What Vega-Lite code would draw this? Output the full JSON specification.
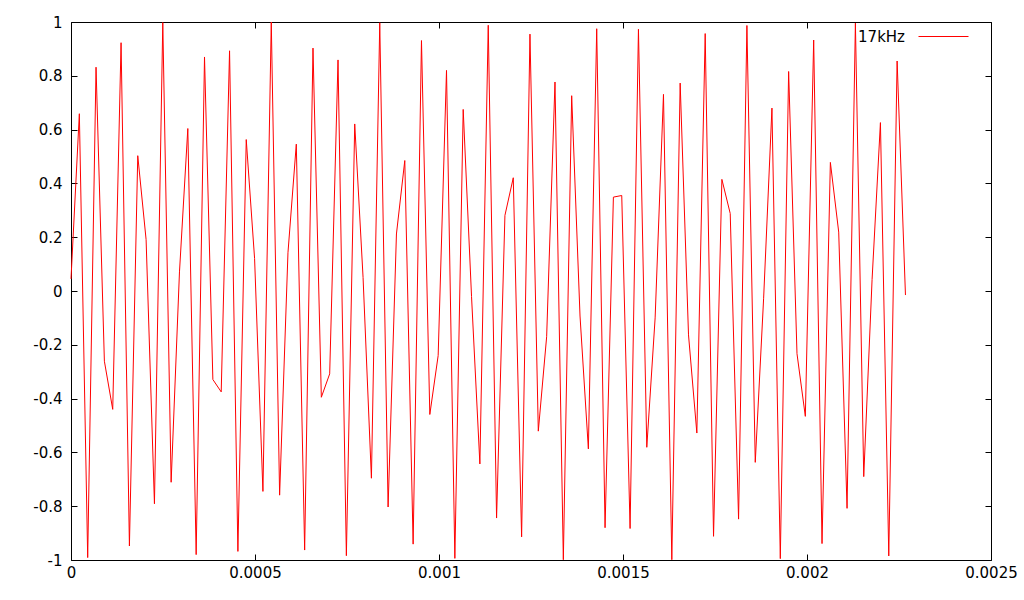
{
  "$schema": "https://vega.github.io/schema/vega-lite/v6.json",
  "width": 920,
  "height": 538,
  "autosize": {"type": "none"},
  "padding": {"left": 71, "top": 22, "right": 33, "bottom": 40},
  "background": "white",
  "config": {"view": {"stroke": "black", "strokeWidth": 1}, "font": "DejaVu Sans"},
  "data": {"values": [
    {"t": 0, "v": 0.045},
    {"t": 0.0000226757, "v": 0.659},
    {"t": 0.0000453515, "v": -0.991},
    {"t": 0.0000680272, "v": 0.832},
    {"t": 0.0000907029, "v": -0.261},
    {"t": 0.000113379, "v": -0.44},
    {"t": 0.000136054, "v": 0.923},
    {"t": 0.00015873, "v": -0.948},
    {"t": 0.000181406, "v": 0.503},
    {"t": 0.000204082, "v": 0.191},
    {"t": 0.000226757, "v": -0.791},
    {"t": 0.000249433, "v": 0.998},
    {"t": 0.000272109, "v": -0.711},
    {"t": 0.000294785, "v": 0.071},
    {"t": 0.00031746, "v": 0.604},
    {"t": 0.000340136, "v": -0.98},
    {"t": 0.000362812, "v": 0.87},
    {"t": 0.000385488, "v": -0.329},
    {"t": 0.000408163, "v": -0.375},
    {"t": 0.000430839, "v": 0.893},
    {"t": 0.000453515, "v": -0.968},
    {"t": 0.00047619, "v": 0.563},
    {"t": 0.000498866, "v": 0.121},
    {"t": 0.000521542, "v": -0.745},
    {"t": 0.000544218, "v": 1.0},
    {"t": 0.000566893, "v": -0.759},
    {"t": 0.000589569, "v": 0.142},
    {"t": 0.000612245, "v": 0.546},
    {"t": 0.000634921, "v": -0.963},
    {"t": 0.000657596, "v": 0.903},
    {"t": 0.000680272, "v": -0.395},
    {"t": 0.000702948, "v": -0.308},
    {"t": 0.000725624, "v": 0.859},
    {"t": 0.000748299, "v": -0.984},
    {"t": 0.000770975, "v": 0.621},
    {"t": 0.000793651, "v": 0.05},
    {"t": 0.000816327, "v": -0.696},
    {"t": 0.000839002, "v": 0.997},
    {"t": 0.000861678, "v": -0.803},
    {"t": 0.000884354, "v": 0.212},
    {"t": 0.000907029, "v": 0.485},
    {"t": 0.000929705, "v": -0.941},
    {"t": 0.000952381, "v": 0.931},
    {"t": 0.000975057, "v": -0.459},
    {"t": 0.000997732, "v": -0.24},
    {"t": 0.00102041, "v": 0.82},
    {"t": 0.00104308, "v": -0.994},
    {"t": 0.00106576, "v": 0.675},
    {"t": 0.00108844, "v": -0.021},
    {"t": 0.00111111, "v": -0.643},
    {"t": 0.00113379, "v": 0.988},
    {"t": 0.00115646, "v": -0.844},
    {"t": 0.00117914, "v": 0.281},
    {"t": 0.00120181, "v": 0.421},
    {"t": 0.00122449, "v": -0.914},
    {"t": 0.00124717, "v": 0.955},
    {"t": 0.00126984, "v": -0.521},
    {"t": 0.00129252, "v": -0.17},
    {"t": 0.00131519, "v": 0.777},
    {"t": 0.00133787, "v": -0.999},
    {"t": 0.00136054, "v": 0.726},
    {"t": 0.00138322, "v": -0.093},
    {"t": 0.0014059, "v": -0.587},
    {"t": 0.00142857, "v": 0.975},
    {"t": 0.00145125, "v": -0.88},
    {"t": 0.00147392, "v": 0.349},
    {"t": 0.0014966, "v": 0.355},
    {"t": 0.00151927, "v": -0.883},
    {"t": 0.00154195, "v": 0.973},
    {"t": 0.00156463, "v": -0.581},
    {"t": 0.0015873, "v": -0.1},
    {"t": 0.00160998, "v": 0.731},
    {"t": 0.00163265, "v": -0.999},
    {"t": 0.00165533, "v": 0.773},
    {"t": 0.001678, "v": -0.163},
    {"t": 0.00170068, "v": -0.528},
    {"t": 0.00172336, "v": 0.957},
    {"t": 0.00174603, "v": -0.912},
    {"t": 0.00176871, "v": 0.415},
    {"t": 0.00179138, "v": 0.288},
    {"t": 0.00181406, "v": -0.848},
    {"t": 0.00183673, "v": 0.987},
    {"t": 0.00185941, "v": -0.637},
    {"t": 0.00188209, "v": -0.029},
    {"t": 0.00190476, "v": 0.68},
    {"t": 0.00192744, "v": -0.995},
    {"t": 0.00195011, "v": 0.816},
    {"t": 0.00197279, "v": -0.233},
    {"t": 0.00199546, "v": -0.466},
    {"t": 0.00201814, "v": 0.933},
    {"t": 0.00204082, "v": -0.939},
    {"t": 0.00206349, "v": 0.478},
    {"t": 0.00208617, "v": 0.219},
    {"t": 0.00210884, "v": -0.808},
    {"t": 0.00213152, "v": 0.996},
    {"t": 0.0021542, "v": -0.69},
    {"t": 0.00217687, "v": 0.043},
    {"t": 0.00219955, "v": 0.626},
    {"t": 0.00222222, "v": -0.985},
    {"t": 0.0022449, "v": 0.855},
    {"t": 0.00226757, "v": -0.015}
  ]},
  "layer": [
    {
      "mark": {"type": "line", "strokeWidth": 1, "interpolate": "linear"},
      "encoding": {
        "x": {
          "field": "t", "type": "quantitative",
          "scale": {"domain": [0, 0.0025], "nice": false, "zero": false},
          "axis": {"orient": "bottom", "values": [0, 0.0005, 0.001, 0.0015, 0.002, 0.0025],
            "labelExpr": "'' + datum.value", "title": null, "grid": false, "domain": false,
            "tickSize": -6, "tickColor": "black", "labelFont": "DejaVu Sans", "labelFontSize": 15,
            "labelColor": "black", "labelPadding": 11, "labelFlush": false, "labelOverlap": false}
        },
        "y": {
          "field": "v", "type": "quantitative",
          "scale": {"domain": [-1, 1], "nice": false, "zero": false},
          "axis": {"orient": "left", "values": [-1, -0.8, -0.6, -0.4, -0.2, 0, 0.2, 0.4, 0.6, 0.8, 1],
            "labelExpr": "'' + datum.value", "title": null, "grid": false, "domain": false,
            "tickSize": -6, "tickColor": "black", "labelFont": "DejaVu Sans", "labelFontSize": 15,
            "labelColor": "black", "labelPadding": 15, "labelFlush": false, "labelOverlap": false}
        },
        "color": {
          "datum": "17kHz", "type": "nominal",
          "scale": {"range": ["#ff0000"]},
          "legend": {"orient": "none", "legendX": 847, "legendY": -11, "title": null,
            "symbolType": "stroke", "symbolSize": 2500, "symbolStrokeWidth": 1,
            "labelFont": "DejaVu Sans", "labelFontSize": 15, "labelColor": "black",
            "labelAlign": "right", "labelOffset": -64, "padding": 0}
        }
      }
    },
    {
      "mark": {"type": "point", "opacity": 0},
      "encoding": {
        "x": {
          "field": "t", "type": "quantitative",
          "scale": {"domain": [0, 0.0025], "nice": false, "zero": false},
          "axis": {"orient": "top", "values": [0, 0.0005, 0.001, 0.0015, 0.002, 0.0025],
            "labels": false, "title": null, "grid": false, "domain": false,
            "tickSize": -6, "tickColor": "black"}
        },
        "y": {
          "field": "v", "type": "quantitative",
          "scale": {"domain": [-1, 1], "nice": false, "zero": false},
          "axis": {"orient": "right", "values": [-1, -0.8, -0.6, -0.4, -0.2, 0, 0.2, 0.4, 0.6, 0.8, 1],
            "labels": false, "title": null, "grid": false, "domain": false,
            "tickSize": -6, "tickColor": "black"}
        }
      }
    }
  ],
  "resolve": {"axis": {"x": "independent", "y": "independent"}}
}
